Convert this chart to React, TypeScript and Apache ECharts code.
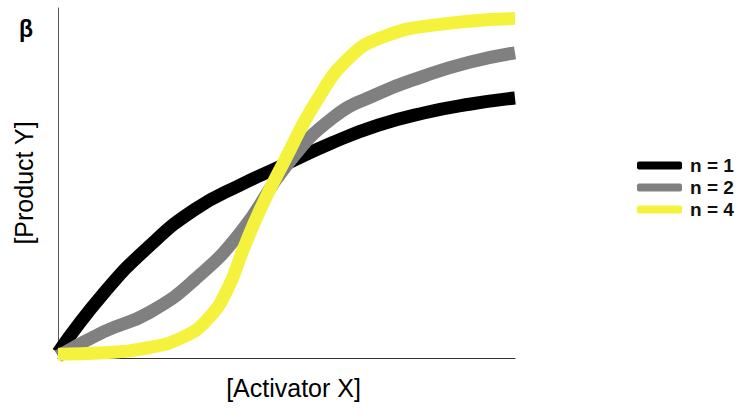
import React, { useEffect, useRef } from "react";
import * as echarts from "echarts";

const seriesNames = ["n = 1", "n = 2", "n = 4"];
const seriesColors = ["#000000", "#808080", "#f4f23c"];

const n1: [number, number][] = [
  [0, 1.5], [10, 18.5], [20, 32], [30, 42.5], [40, 49.5], [50, 55.5],
  [60, 61.5], [70, 66.5], [80, 70], [90, 72.5], [100, 74.3],
];
const n2: [number, number][] = [
  [0, 0.5], [10, 7.5], [20, 13], [30, 22.5], [40, 36], [50, 55],
  [60, 68.5], [70, 75.5], [80, 80.5], [90, 84.5], [100, 87.2],
];
const n4: [number, number][] = [
  [0, 1.1], [10, 1.5], [20, 3], [27.4, 6], [32.6, 10.9], [37, 19.4],
  [40.5, 30.9], [44.2, 42.3], [49.2, 55.4], [56.7, 73.7], [63.9, 86],
  [71.1, 91.7], [82.1, 95.1], [100, 97],
];
const seriesData = [n1, n2, n4];

const xAxisTitle = "[Activator X]";
const yAxisTitle = "[Product Y]";
const maxLabel = "β";

export default function App() {
  const ref = useRef<HTMLDivElement>(null);
  useEffect(() => {
    document.body.style.margin = "0";
    if (!ref.current) return;
    const chart = echarts.init(ref.current, null, { renderer: "svg" });
    const font = "'Liberation Sans', Arial, sans-serif";
    chart.setOption({
      animation: false,
      backgroundColor: "#ffffff",
      grid: { left: 58, top: 8, width: 457, height: 350 },
      xAxis: {
        type: "value",
        min: 0,
        max: 100,
        axisLine: { show: true, lineStyle: { color: "#333", width: 1 } },
        axisTick: { show: false },
        axisLabel: { show: false },
        splitLine: { show: false },
        name: xAxisTitle,
        nameLocation: "middle",
        nameGap: 17,
        nameTextStyle: { fontFamily: font, fontSize: 25, color: "#000", verticalAlign: "top", padding: [0, 0, 0, 14] },
      },
      yAxis: {
        type: "value",
        min: 0,
        max: 100,
        axisLine: { show: true, lineStyle: { color: "#555", width: 1 } },
        axisTick: { show: false },
        axisLabel: { show: false },
        splitLine: { show: false },
        name: yAxisTitle,
        nameLocation: "middle",
        nameGap: 22,
        nameTextStyle: { fontFamily: font, fontSize: 25, color: "#000" },
      },
      legend: {
        orient: "vertical",
        left: 632,
        top: 151,
        icon: "roundRect",
        itemWidth: 45,
        itemHeight: 8,
        itemGap: 3,
        itemStyle: { borderWidth: 0 },
        textStyle: {
          fontFamily: font,
          fontSize: 19,
          fontWeight: "bold",
          color: "#111",
          padding: [0, 0, 0, 3],
        },
        data: seriesNames,
      },
      graphic: [
        {
          type: "text",
          left: 19,
          top: 17,
          style: { text: maxLabel, font: `bold 23px ${font}`, fill: "#000" },
        },
      ],
      series: seriesData.map((d, i) => ({
        name: seriesNames[i],
        type: "line",
        data: d,
        smooth: 0.5,
        showSymbol: false,
        symbol: "none",
        clip: false,
        color: seriesColors[i],
        itemStyle: { color: seriesColors[i] },
        lineStyle: { color: seriesColors[i], width: 13, cap: "butt" },
        z: 2 + i,
      })),
    });
    return () => chart.dispose();
  }, []);
  return <div ref={ref} style={{ width: 738, height: 420 }} />;
}
